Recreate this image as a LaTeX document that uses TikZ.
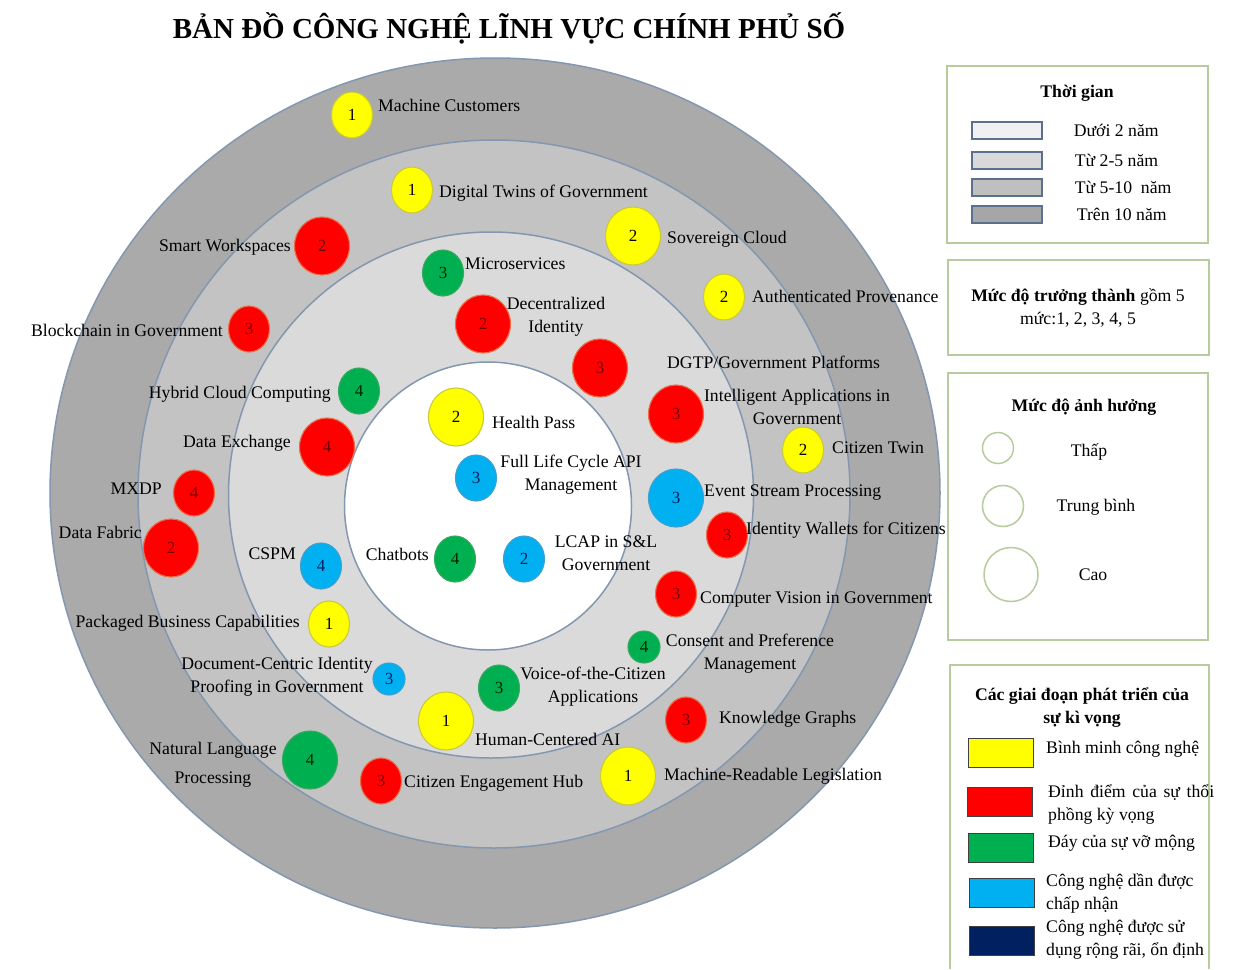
\documentclass[tikz,border=0pt]{standalone}
\usepackage{fontspec}
\setmainfont{Liberation Serif}
\usetikzlibrary{positioning,shapes.geometric}
\definecolor{ringout}{HTML}{AAAAAA}
\definecolor{ringmid}{HTML}{C3C3C3}
\definecolor{ringin}{HTML}{DADADA}
\definecolor{ringln}{HTML}{8497B0}
\definecolor{cyel}{HTML}{FFFF00}
\definecolor{cyeld}{HTML}{C9C93A}
\definecolor{cred}{HTML}{FF0000}
\definecolor{credd}{HTML}{E8704A}
\definecolor{cgrn}{HTML}{00B050}
\definecolor{cgrnd}{HTML}{3AA860}
\definecolor{cblu}{HTML}{00B0F0}
\definecolor{cblud}{HTML}{41A0D2}
\definecolor{cnavy}{HTML}{002060}
\definecolor{legln}{HTML}{B7CB9D}
\definecolor{swln}{HTML}{5B6F8E}
\definecolor{tone}{HTML}{F0F0F0}
\definecolor{ttwo}{HTML}{D9D9D9}
\definecolor{tthree}{HTML}{BFBFBF}
\definecolor{tfour}{HTML}{A6A6A6}
\newcommand{\lblfont}{\fontsize{17.7}{23}\selectfont}

\begin{document}
\begin{tikzpicture}[x=1pt, y=-1pt]
  \tikzstyle{bub} = [ellipse, inner sep=0pt, line width=1.1pt, font=\fontsize{17}{17}\selectfont]
  \tikzstyle{bsmall} = [minimum width=32pt, minimum height=32pt]
  \tikzstyle{bmid} = [minimum width=41pt, minimum height=46pt]
  \tikzstyle{bbig} = [minimum width=55pt, minimum height=58pt]
  \tikzstyle{yel} = [bub, fill=cyel, draw=cyeld, text=black]
  \tikzstyle{red} = [bub, fill=cred, draw=credd, text=red!45!black]
  \tikzstyle{grn} = [bub, fill=cgrn, draw=cgrnd, text=black!85!green]
  \tikzstyle{blu} = [bub, fill=cblu, draw=cblud, text=cnavy]
  \tikzstyle{lbl} = [inner sep=0pt, align=center, font=\lblfont]
  \tikzstyle{legbox} = [draw=legln, line width=1.5pt]
  \tikzstyle{tsw} = [draw=swln, line width=1.3pt, minimum width=70pt, minimum height=17pt, inner sep=0pt]
  \tikzstyle{csw} = [draw=black!75, line width=0.8pt, minimum width=65pt, minimum height=29pt, inner sep=0pt]
  \tikzstyle{icirc} = [circle, draw=legln, line width=1.5pt, inner sep=0pt]

  \useasboundingbox (0,0) rectangle (1242,969);
  \fill[white] (0,0) rectangle (1242,969);

  \node[font=\fontsize{29}{29}\selectfont\bfseries] (title) at (509,28) {BẢN ĐỒ CÔNG NGHỆ LĨNH VỰC CHÍNH PHỦ SỐ};

  % rings
  \filldraw[fill=ringout, draw=ringln, line width=1.5pt] (495,493) ellipse [x radius=445pt, y radius=435pt];
  \filldraw[fill=ringmid, draw=ringln, line width=1.5pt] (494,494) ellipse [x radius=356pt, y radius=354pt];
  \filldraw[fill=ringin, draw=ringln, line width=1.5pt] (491,495) ellipse [x radius=262.5pt, y radius=263pt];
  \filldraw[fill=white, draw=ringln, line width=1.5pt] (488,506) ellipse [x radius=143.5pt, y radius=144pt];

  % technologies
  \node[yel, bmid] (mc) at (352,115) {1};
  \node[lbl, anchor=west] (mcl) at (378,105) {Machine Customers};
  \node[yel, bmid] (dt) at (412,190) {1};
  \node[lbl, anchor=west] (dtl) at (439,193) {Digital Twins of Government};
  \node[yel, bbig] (sc) at (633,236) {2};
  \node[lbl, anchor=west] (scl) at (667,239) {Sovereign Cloud};
  \node[yel, bmid] (ap) at (724,297) {2};
  \node[lbl, anchor=west] (apl) at (752,296) {Authenticated Provenance};
  \node[red, bbig] (sw) at (322,246) {2};
  \node[lbl, anchor=east] (swl) at (291,247) {Smart Workspaces};
  \node[red, bmid] (bc) at (249,329) {3};
  \node[lbl, anchor=east] (bcl) at (223,330) {Blockchain in Government};
  \node[grn, bmid] (ms) at (443,273) {3};
  \node[lbl, anchor=west] (msl) at (465,264) {Microservices};
  \node[red, bbig] (di) at (483,324) {2};
  \node[lbl] (dil) at (556,317) {Decentralized\\Identity};
  \node[red, bbig] (dg) at (600,368) {3};
  \node[lbl, anchor=west] (dgl) at (667,362) {DGTP/Government Platforms};
  \node[red, bbig] (ia) at (676,414) {3};
  \node[lbl] (ial) at (797,407) {Intelligent Applications in\\Government};
  \node[yel, bmid] (ct) at (803,450) {2};
  \node[lbl, anchor=west] (ctl) at (832,448) {Citizen Twin};
  \node[grn, bmid] (hc) at (359,391) {4};
  \node[lbl, anchor=east] (hcl) at (331,394) {Hybrid Cloud Computing};
  \node[red, bbig] (dx) at (327,447) {4};
  \node[lbl, anchor=east] (dxl) at (291,443) {Data Exchange};
  \node[red, bmid] (mx) at (194,493) {4};
  \node[lbl, anchor=east] (mxl) at (162,489) {MXDP};
  \node[red, bbig] (df) at (171,548) {2};
  \node[lbl, anchor=east] (dfl) at (142,532) {Data Fabric};
  \node[yel, bbig] (hp) at (456,417) {2};
  \node[lbl, anchor=west] (hpl) at (492,422) {Health Pass};
  \node[blu, bmid] (fl) at (476,478) {3};
  \node[lbl] (fll) at (571,475) {Full Life Cycle API\\Management};
  \node[blu, bbig] (es) at (676,498) {3};
  \node[lbl, anchor=west] (esl) at (704,493) {Event Stream Processing};
  \node[red, bmid] (iw) at (727,535) {3};
  \node[lbl, anchor=west] (iwl) at (746,530) {Identity Wallets for Citizens};
  \node[blu, bmid] (cs) at (321,566) {4};
  \node[lbl, anchor=east] (csl) at (296,554) {CSPM};
  \node[grn, bmid] (cb) at (455,559) {4};
  \node[lbl, anchor=east] (cbl) at (429,554) {Chatbots};
  \node[blu, bmid] (lc) at (524,559) {2};
  \node[lbl] (lcl) at (606,553) {LCAP in S\&L\\Government};
  \node[red, bmid] (cv) at (676,594) {3};
  \node[lbl, anchor=west] (cvl) at (700,600) {Computer Vision in Government};
  \node[yel, bmid] (pb) at (329,624) {1};
  \node[lbl, anchor=east] (pbl) at (300,623) {Packaged Business Capabilities};
  \node[grn, bsmall] (cp) at (644,647) {4};
  \node[lbl] (cpl) at (750,654) {Consent and Preference\\Management};
  \node[blu, bsmall] (dc) at (389,679) {3};
  \node[lbl] (dcl) at (277,677) {Document-Centric Identity\\Proofing in Government};
  \node[grn, bmid] (vc) at (499,688) {3};
  \node[lbl] (vcl) at (593,687) {Voice-of-the-Citizen\\Applications};
  \node[yel, bbig] (hca) at (446,721) {1};
  \node[lbl, anchor=west] (hcal) at (475,739) {Human-Centered AI};
  \node[red, bmid] (kg) at (686,720) {3};
  \node[lbl, anchor=west] (kgl) at (719,719) {Knowledge Graphs};
  \node[grn, bbig] (nlp) at (310,760) {4};
  \node[lbl, font=\fontsize{17.7}{29}\selectfont] (nlpl) at (213,765) {Natural Language\\Processing};
  \node[red, bmid] (ceh) at (381,781) {3};
  \node[lbl, anchor=west] (cehl) at (404,783) {Citizen Engagement Hub};
  \node[yel, bbig] (mr) at (628,776) {1};
  \node[lbl, anchor=west] (mrl) at (664,776) {Machine-Readable Legislation};

  % legend: time
  \draw[legbox] (947,66) rectangle (1208,243);
  \node[lbl, font=\lblfont\bfseries] (tg) at (1077,93) {Thời gian};
  \node[tsw, fill=tone] (t1) at (1007,130.5) {};
  \node[tsw, fill=ttwo] (t2) at (1007,160.5) {};
  \node[tsw, fill=tthree] (t3) at (1007,187.5) {};
  \node[tsw, fill=tfour] (t4) at (1007,214.5) {};
  \node[lbl, right=31pt of t1] (t1l) {Dưới 2 năm};
  \node[lbl, right=32pt of t2] (t2l) {Từ 2-5 năm};
  \node[lbl, right=32pt of t3] (t3l) {Từ 5-10~~năm};
  \node[lbl, right=34pt of t4] (t4l) {Trên 10 năm};

  % legend: maturity
  \draw[legbox] (948,260) rectangle (1209,355);
  \node[lbl] (mt) at (1078,308) {\textbf{Mức độ trưởng thành} gồm 5\\mức:1, 2, 3, 4, 5};

  % legend: impact
  \draw[legbox] (948,373) rectangle (1208,640);
  \node[lbl, font=\lblfont\bfseries] (im) at (1084,407) {Mức độ ảnh hưởng};
  \node[icirc, minimum size=31pt] (i1) at (998,448) {};
  \node[icirc, minimum size=41pt] (i2) at (1003,506) {};
  \node[icirc, minimum size=54pt] (i3) at (1011,574.5) {};
  \node[lbl] (i1l) at (1089,452) {Thấp};
  \node[lbl] (i2l) at (1096,507) {Trung bình};
  \node[lbl] (i3l) at (1093,575) {Cao};

  % legend: hype stages
  \draw[legbox] (950,969) -- (950,665) -- (1209,665) -- (1209,969);
  \node[lbl, font=\lblfont\bfseries] (gd) at (1082,708) {Các giai đoạn phát triển của\\sự kì vọng};
  \node[csw, fill=cyel] (g1) at (1000.5,752.5) {};
  \node[csw, fill=cred] (g2) at (1000,802) {};
  \node[csw, fill=cgrn] (g3) at (1000.5,848) {};
  \node[csw, fill=cblu] (g4) at (1001.5,893) {};
  \node[csw, fill=cnavy] (g5) at (1001.5,940.5) {};
  \node[lbl, anchor=west] (g1l) at (1046,749) {Bình minh công nghệ};
  \node[lbl, anchor=west, align=left] (g2l) at (1048,804) {\makebox[166pt][s]{Đỉnh điểm của sự thổi}\\phồng kỳ vọng};
  \node[lbl, anchor=west] (g3l) at (1048,843) {Đáy của sự vỡ mộng};
  \node[lbl, anchor=west, align=left] (g4l) at (1046,893.5) {Công nghệ dần được\\chấp nhận};
  \node[lbl, anchor=west, align=left] (g5l) at (1046,940) {Công nghệ được sử\\dụng rộng rãi, ổn định};
\end{tikzpicture}
\end{document}
